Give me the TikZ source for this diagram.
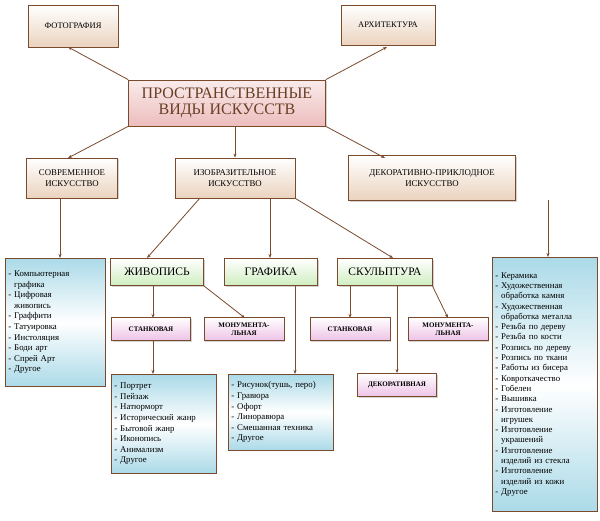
\documentclass[tikz,border=0pt]{standalone}
\usepackage{fontspec}
\setmainfont{Liberation Serif}
\usetikzlibrary{arrows.meta,shadows}
\definecolor{brn}{HTML}{7A4A2C}
\definecolor{tan}{HTML}{EBD3BE}
\definecolor{rose}{HTML}{EDBDBD}
\definecolor{lgreen}{HTML}{CFEEC0}
\definecolor{lpink}{HTML}{EDC2E6}
\definecolor{lblue}{HTML}{ABDAE8}
\tikzset{
  box/.style={draw=brn,line width=0.8pt,top color=white,bottom color=tan,
    drop shadow={shadow xshift=1pt,shadow yshift=-1pt,fill=black!35},
    align=center,inner sep=1pt},
  head/.style={box,bottom color=rose,top color=rose!30,font=\fontsize{16}{16}\selectfont,text=brn!85!black},
  grn/.style={box,bottom color=lgreen,top color=white,font=\fontsize{11.5}{12}\selectfont},
  pnk/.style={box,bottom color=lpink,top color=white,font=\bfseries\fontsize{7}{8}\selectfont},
  lst/.style={draw=brn,line width=0.7pt,top color=lblue,bottom color=lblue,middle color=white,
    drop shadow={shadow xshift=1pt,shadow yshift=-1pt,fill=black!35},
    anchor=north west,align=left,inner sep=3pt,font=\fontsize{8.8}{10.6}\selectfont},
  arr/.style={draw=brn,line width=0.8pt,-{Stealth[length=4pt,width=3pt]}}
}
\newcommand\ind{\phantom{- }}
\begin{document}
\begin{tikzpicture}[x=1pt,y=-1pt]
	\useasboundingbox (0,0) rectangle (600,520);
	
	%% top level
	\node[box,minimum width=90,minimum height=42,font=\fontsize{8.5}{9}\selectfont] (foto) at (73,26) {ФОТОГРАФИЯ};
	\node[box,minimum width=94,minimum height=40,font=\fontsize{8.5}{9}\selectfont] (arch) at (388,25) {АРХИТЕКТУРА};
	\node[head,minimum width=197,minimum height=46] (main) at (227,103) {ПРОСТРАНСТВЕННЫЕ\\ВИДЫ ИСКУССТВ};
	
	\node[box,minimum width=91,minimum height=40,font=\fontsize{8.8}{11}\selectfont] (sovr) at (72,178) {СОВРЕМЕННОЕ\\ИСКУССТВО};
	\node[box,minimum width=120,minimum height=40,font=\fontsize{8.8}{11}\selectfont] (izo) at (235,178) {ИЗОБРАЗИТЕЛЬНОЕ\\ИСКУССТВО};
	\node[box,minimum width=167,minimum height=45,font=\fontsize{8.8}{11}\selectfont] (deko) at (432,178) {ДЕКОРАТИВНО-ПРИКЛОДНОЕ\\ИСКУССТВО};
	
	\draw[arr] (main.north west) -- (68,47);
	\draw[arr] (main.north east) -- (387,47);
	\draw[arr] (main.south west) -- (68,158);
	\draw[arr] (235,126) -- (izo.north);
	\draw[arr] (main.south east) -- (385,158);
	
	%% second level
	\node[grn,minimum width=93,minimum height=27] (zhiv) at (157,272) {ЖИВОПИСЬ};
	\node[grn,minimum width=93,minimum height=27] (graf) at (271,272) {ГРАФИКА};
	\node[grn,minimum width=95,minimum height=27] (skul) at (385,272) {СКУЛЬПТУРА};
	
	\draw[arr] (200,198) -- (147,258);
	\draw[arr] (270,198) -- (270,258);
	\draw[arr] (izo.south east) -- (393,258);
	
	\node[pnk,minimum width=79,minimum height=23] (stz) at (151,329) {СТАНКОВАЯ};
	\node[pnk,minimum width=80,minimum height=23] (monz) at (244,329) {МОНУМЕНТА-\\ЛЬНАЯ};
	\node[pnk,minimum width=80,minimum height=23] (sts) at (350,329) {СТАНКОВАЯ};
	\node[pnk,minimum width=80,minimum height=23] (mons) at (448,329) {МОНУМЕНТА-\\ЛЬНАЯ};
	\node[pnk,minimum width=79,minimum height=23] (dek) at (397,385) {ДЕКОРАТИВНАЯ};
	
	\draw[arr] (153,285) -- (153,318);
	\draw[arr] (zhiv.south east) -- (245,318);
	\draw[arr] (350,285) -- (350,318);
	\draw[arr] (432,285) -- (448,318);
	\draw[arr] (397,285) -- (dek.north);
	
	%% lists
	\node[lst,text width=94,minimum height=128] (lsovr) at (5,258) {- Компьютерная\\\ind графика\\- Цифровая\\\ind живопись\\- Граффити\\- Татуировка\\- Инстоляция\\- Боди арт\\- Спрей Арт\\- Другое};
	\node[lst,text width=99,minimum height=99] (lzhiv) at (111,374) {- Портрет\\- Пейзаж\\- Натюрморт\\- Исторический жанр\\- Бытовой жанр\\- Иконопись\\- Анимализм\\- Другое};
	\node[lst,text width=99,minimum height=76] (lgraf) at (228,374) {- Рисунок(тушь, перо)\\- Гравюра\\- Офорт\\- Линоравюра\\- Смешанная техника\\- Другое};
	\node[lst,text width=99,minimum height=254,font=\fontsize{8.8}{10.3}\selectfont] (ldeko) at (492,257) {- Керамика\\- Художественная\\\ind обработка камня\\- Художественная\\\ind обработка металла\\- Резьба по дереву\\- Резьба по кости\\- Розпись по дереву\\- Розпись по ткани\\- Работы из бисера\\- Ковроткачество\\- Гобелен\\- Вышивка\\- Изготовление\\\ind игрушек\\- Изготовление\\\ind украшений\\- Изготовление\\\ind изделий из стекла\\- Изготовление\\\ind изделий из кожи\\- Другое};
	
	\draw[arr] (60,198) -- (60,258);
	\draw[arr] (153,341) -- (153,374);
	\draw[arr] (295,285) -- (295,374);
	\draw[arr] (548,200) -- (548,257);
	
\end{tikzpicture}
\end{document}
